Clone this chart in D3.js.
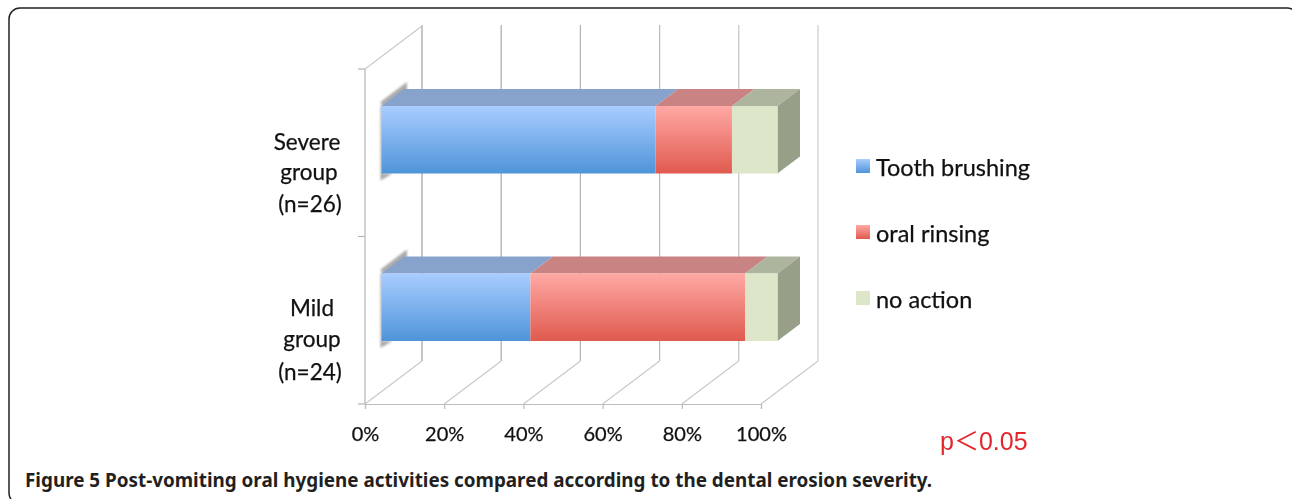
<!DOCTYPE html>
<html><head><meta charset="utf-8">
<script src="https://cdn.jsdelivr.net/npm/d3@7"></script>
<style>html,body{margin:0;padding:0;background:#fff;overflow:hidden}svg{display:block}</style>
</head><body><svg id="c" width="1292" height="499"></svg>
<script>
const categories = ["Severe group", "Mild group"];
const categoryLabels = [["Severe", "group", "(n=26)"], ["Mild", "group", "(n=24)"]];
const seriesNames = ["Tooth brushing", "oral rinsing", "no action"];
const toothBrushing = [69.2, 37.6];
const oralRinsing = [19.3, 54.2];
const noAction = [11.5, 8.2];
const tickValues = [0, 20, 40, 60, 80, 100];
const caption = ["Figure 5", " Post-vomiting oral hygiene activities compared according to the dental erosion severity."];
const note = "p＜0.05";

const svg = d3.select("#c");
const defs = svg.append("defs");
const palette = [
  {top:"#87a2cb", g0:"#a9cdff", g1:"#4f94d9"},
  {top:"#c98382", g0:"#ffa9a5", g1:"#e05a4e"},
  {top:"#aeb59e", g0:"#dde6c8", g1:"#dde6c8"}
];
palette.forEach((p,i)=>{
  const g = defs.append("linearGradient").attr("id","g"+i).attr("x1",0).attr("y1",0).attr("x2",0).attr("y2",1);
  g.append("stop").attr("offset","0%").attr("stop-color",p.g0);
  g.append("stop").attr("offset","100%").attr("stop-color",p.g1);
});
defs.append("filter").attr("id","soft").attr("x","-30%").attr("y","-30%").attr("width","160%").attr("height","160%")
  .append("feGaussianBlur").attr("stdDeviation",1.3);

// panel frame
svg.append("rect").attr("x",9).attr("y",8).attr("width",1289).attr("height",496).attr("rx",11)
  .attr("fill","#fff").attr("stroke","#222").attr("stroke-width",1.5);

const x = d3.scaleLinear().domain([0,100]).range([365,761]);
const y = d3.scaleBand().domain(categories).range([69,404]);
const wall = {dx:57, dy:-43};
const inset = {dx:16.5, dy:-13};
const depth = {dx:22.5, dy:-17};
const barH = 67.5;
const textFont = "Lato, 'Open Sans', sans-serif";
const textInk = "#111";

const chart = svg.append("g").style("filter","blur(0.45px)");

// walls and floor
const gridColor = d3.scaleLinear().domain([0,100]).range(["#a0a0a0","#cccccc"]);
chart.selectAll(".grid").data(tickValues).join("line").attr("class","grid")
  .attr("x1",d=>x(d)+wall.dx).attr("x2",d=>x(d)+wall.dx)
  .attr("y1",y.range()[0]+wall.dy-1).attr("y2",y.range()[1]+wall.dy)
  .attr("stroke",d=>gridColor(d)).attr("stroke-width",1.2);
chart.selectAll(".floor").data(tickValues).join("line").attr("class","floor")
  .attr("x1",d=>x(d)).attr("x2",d=>x(d)+wall.dx)
  .attr("y1",y.range()[1]).attr("y2",y.range()[1]+wall.dy)
  .attr("stroke","#c8c8c8").attr("stroke-width",1.1);
chart.append("line").attr("x1",x(0)).attr("x2",x(0)+wall.dx)
  .attr("y1",y.range()[0]).attr("y2",y.range()[0]+wall.dy)
  .attr("stroke","#c8c8c8").attr("stroke-width",1.1);

// axes
const xAxis = d3.axisBottom(x).tickValues(tickValues).tickFormat(d=>d+"%").tickSize(5).tickPadding(18);
const gx = chart.append("g").attr("transform",`translate(0,${y.range()[1]})`).call(xAxis);
gx.select(".domain").attr("stroke","#bdbdbd").attr("stroke-width",1.2);
gx.selectAll(".tick line").attr("stroke","#bdbdbd").attr("stroke-width",1.2);
gx.selectAll("text").attr("font-family",textFont).attr("font-size",20).attr("fill",textInk)
  .attr("stroke",textInk).attr("stroke-width",.25);

const yTicks = [y.range()[0], y(categories[1]), y.range()[1]];
chart.selectAll(".ytick").data(yTicks).join("line").attr("class","ytick")
  .attr("x1",x(0)-7).attr("x2",x(0)).attr("y1",d=>d).attr("y2",d=>d)
  .attr("stroke","#b4b4b4").attr("stroke-width",1.2);
chart.append("line").attr("x1",x(0)).attr("x2",x(0)).attr("y1",y.range()[0]).attr("y2",y.range()[1])
  .attr("stroke","#c0c0c0").attr("stroke-width",1.4);

// bars
const rows = categories.map((c,i)=>{
  const vals=[toothBrushing[i],oralRinsing[i],noAction[i]]; let s=0;
  return {c,segs:vals.map((v,k)=>{const o={k,x0:s,x1:s+v};s+=v;return o;})};
});
const barTop = c => y(c)+y.bandwidth()/2-barH/2+inset.dy;
const pts = a => a.map(p=>p.join(",")).join(" ");
const rowG = chart.selectAll(".row").data(rows).join("g").attr("class","row");

// shadow of the bar's hidden back-left face
rowG.append("polygon").attr("fill","#8f8f8f").attr("opacity",.75).attr("filter","url(#soft)")
  .attr("points",d=>{const t=barTop(d.c),l=x(0)+inset.dx-1;return pts([[l,t-4],[l+depth.dx+4,t-24],[l+depth.dx+4,t+depth.dy+1],[l+2,t+1]]);});
rowG.append("polygon").attr("fill","#8f8f8f").attr("opacity",.75).attr("filter","url(#soft)")
  .attr("points",d=>{const t=barTop(d.c),l=x(0)+inset.dx-1;return pts([[l,t],[l+2,t],[l+2,t+barH],[l+12,t+barH],[l,t+barH+7]]);});

rowG.selectAll(".top").data(d=>d.segs.map(s=>({...s,c:d.c}))).join("polygon").attr("class","top")
  .attr("fill",d=>palette[d.k].top)
  .attr("points",d=>{const t=barTop(d.c),a=x(d.x0)+inset.dx,b=x(d.x1)+inset.dx;
    return pts([[a,t],[b,t],[b+depth.dx,t+depth.dy],[a+depth.dx,t+depth.dy]]);});
rowG.append("polygon").attr("fill","#989f88")
  .attr("points",d=>{const t=barTop(d.c),b=x(100)+inset.dx;
    return pts([[b,t],[b+depth.dx,t+depth.dy],[b+depth.dx,t+depth.dy+barH],[b,t+barH]]);});
rowG.selectAll(".front").data(d=>d.segs.map(s=>({...s,c:d.c}))).join("rect").attr("class","front")
  .attr("x",d=>x(d.x0)+inset.dx).attr("width",d=>x(d.x1)-x(d.x0))
  .attr("y",d=>barTop(d.c)).attr("height",barH)
  .attr("fill",d=>`url(#g${d.k})`);

// category labels
const labelX = [[307,309,310],[312,312,310]];
const labelY = [[150,180,212],[316,347,380]];
categoryLabels.forEach((lines,i)=>lines.forEach((t,j)=>{
  chart.append("text").text(t).attr("x",labelX[i][j]).attr("y",labelY[i][j]).attr("text-anchor","middle")
    .attr("font-family",textFont).attr("font-size",22.5).attr("fill",textInk)
    .attr("stroke",textInk).attr("stroke-width",.25);
}));

// legend
const legendY = d3.scalePoint().domain(seriesNames).range([176,308]);
const lg = chart.selectAll(".lg").data(seriesNames).join("g").attr("class","lg")
  .attr("transform",d=>`translate(0,${legendY(d)})`);
lg.append("rect").attr("x",856).attr("y",-17).attr("width",14).attr("height",14)
  .attr("fill",(d,i)=>`url(#g${i})`);
lg.append("text").text(d=>d).attr("x",876).attr("font-family",textFont)
  .attr("font-size",23.5).attr("fill",textInk).attr("stroke",textInk).attr("stroke-width",.25);

// note
chart.append("text").text(note).attr("x",940).attr("y",450)
  .attr("font-family","'Liberation Sans','Noto Sans CJK JP',sans-serif").attr("font-size",25).attr("fill","#e3262c");

// caption
const cap = svg.append("text").attr("x",25).attr("y",487).attr("font-family","'Noto Sans','Open Sans',sans-serif")
  .attr("font-size",18.85).attr("font-weight",700).attr("fill","#231f20");
cap.append("tspan").text(caption[0]);
cap.append("tspan").text(caption[1]);
</script></body></html>
